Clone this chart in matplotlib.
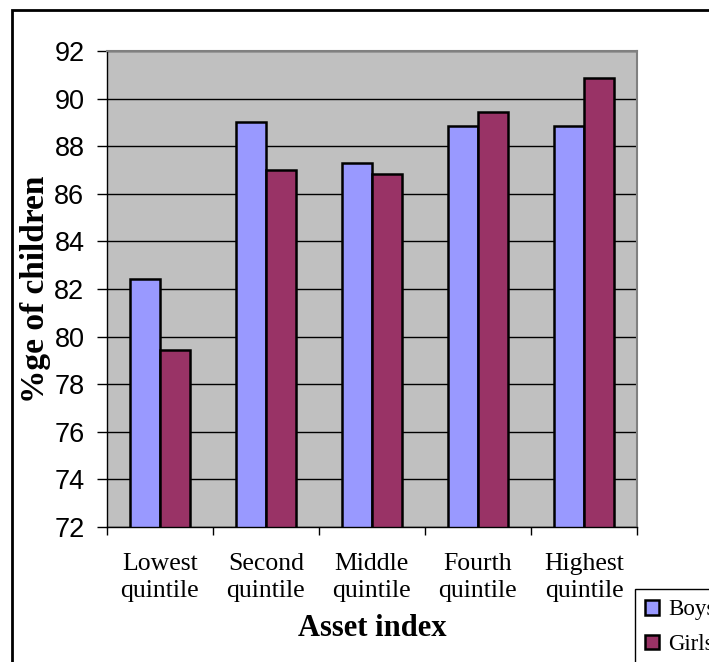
import matplotlib.pyplot as plt
import matplotlib.patches as mpatches
import numpy as np

# data
categories = ["Lowest\nquintile", "Second\nquintile", "Middle\nquintile",
              "Fourth\nquintile", "Highest\nquintile"]
boys = [82.4, 89.0, 87.3, 88.85, 88.85]
girls = [79.45, 87.0, 86.85, 89.45, 90.85]
yticks = [72, 74, 76, 78, 80, 82, 84, 86, 88, 90, 92]

boys_color = "#9999FF"
girls_color = "#993366"

# craft figure
fig = plt.figure(figsize=(7.09, 6.62), dpi=100)
ax = fig.add_axes([106.7 / 709, 1 - 527 / 662, (637 - 106.7) / 709, (527 - 51) / 662])
ax.set_facecolor("#C0C0C0")

x = np.arange(len(categories))
w = 0.285
ax.bar(x - w / 2, boys, w, color=boys_color, edgecolor="black", linewidth=1.8, label="Boys")
ax.bar(x + w / 2, girls, w, color=girls_color, edgecolor="black", linewidth=1.8, label="Girls")

ax.set_xlim(-0.5, len(categories) - 0.5)
ax.set_ylim(72, 92)
ax.set_yticks(yticks)
ax.yaxis.grid(True, color="black", linewidth=1)
ax.set_axisbelow(True)

# y axis
ax.tick_params(axis="y", direction="out", length=7, width=1, pad=9)
for lbl in ax.get_yticklabels():
    lbl.set_fontfamily("Liberation Sans")
    lbl.set_fontsize(19.5)

# x axis: ticks at group boundaries, labels at centers
ax.set_xticks(np.arange(-0.5, len(categories), 1.0))
ax.set_xticklabels([])
ax.tick_params(axis="x", which="major", direction="out", length=6, width=1)
ax.set_xticks(x, minor=True)
ax.set_xticklabels(categories, minor=True, fontfamily="Liberation Serif", fontsize=18.5,
                   linespacing=1.25)
ax.tick_params(axis="x", which="minor", length=0, pad=19)

ax.set_xlabel("Asset index", fontfamily="Liberation Serif", fontweight="bold", fontsize=22, labelpad=9)
ax.set_ylabel("%ge of children", fontfamily="Liberation Serif", fontweight="bold", fontsize=24, labelpad=2)

for side in ["left", "bottom"]:
    ax.spines[side].set_color("black")
    ax.spines[side].set_linewidth(1)
for side in ["top", "right"]:
    ax.spines[side].set_color("#808080")
    ax.spines[side].set_linewidth(1.5)

# outer chart border (runs off the right/bottom edge)
border = mpatches.Rectangle((12 / 709, -0.1), 1.2, 1 - 10 / 662 + 0.1, transform=fig.transFigure,
                            fill=False, edgecolor="black", linewidth=2, clip_on=False)
fig.patches.append(border)

# legend, clipped by the figure edge like in the source
leg = fig.legend(loc="upper left", bbox_to_anchor=(635 / 709, 1 - 589 / 662),
                 prop={"family": "Liberation Serif", "size": 16.5},
                 frameon=True, fancybox=False, edgecolor="black", framealpha=1,
                 handlelength=0.6, handleheight=0.6, handletextpad=0.4,
                 labelspacing=0.6, borderpad=0.45, borderaxespad=0)
leg.get_frame().set_linewidth(1)

fig.savefig("out.png", dpi=100)
plt.close()
